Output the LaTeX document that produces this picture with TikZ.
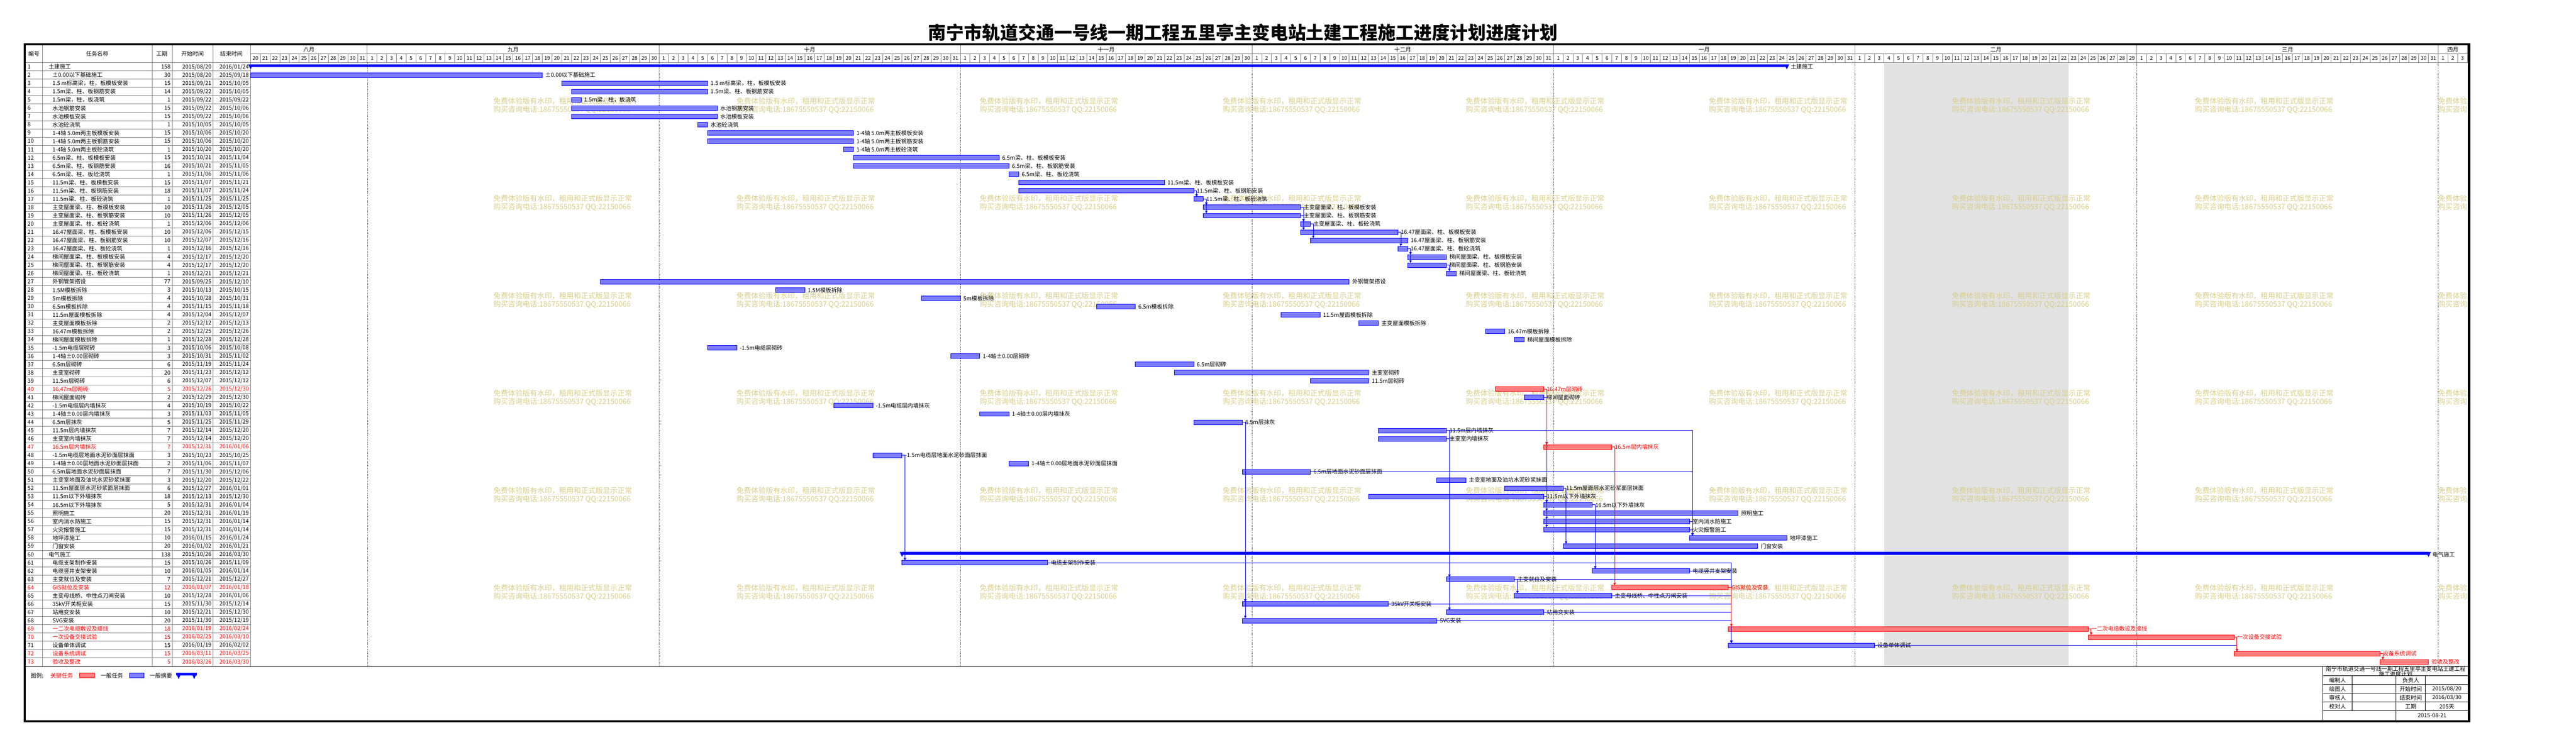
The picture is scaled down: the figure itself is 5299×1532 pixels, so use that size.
\documentclass[tikz,border=0pt]{standalone}
\usepackage{fontspec}
\setmainfont{Noto Sans CJK SC}
\usetikzlibrary{arrows.meta}
\definecolor{wm}{RGB}{216,206,138}
\definecolor{barfill}{RGB}{125,125,250}
\definecolor{critfill}{RGB}{255,125,125}
\definecolor{gridgray}{RGB}{128,128,128}
\definecolor{nonwork}{RGB}{226,226,226}
\colorlet{tcn}{black}
\colorlet{tcc}{red}
\tikzset{
 grid/.style={draw=gridgray, line width=1pt},
 cell/.style={font=\fontsize{11.5}{12}\selectfont, inner sep=0pt, outer sep=0pt},
 hd/.style={font=\fontsize{11.5}{12}\selectfont, inner sep=0pt},
 dy/.style={font=\fontsize{10.5}{11}\selectfont, inner sep=0pt},
 lbl/.style={font=\fontsize{11.5}{12}\selectfont, inner sep=0pt, anchor=west},
 barn/.style={draw=blue, fill=barfill, line width=1pt, inner sep=0pt, outer sep=0pt, minimum height=9.5pt, anchor=west},
 barc/.style={barn, draw=red, fill=critfill},
 sumbar/.style={fill=blue, inner sep=0pt, outer sep=0pt, minimum height=5.5pt, anchor=west},
 link/.style={line width=0.9pt, -{Triangle[length=5pt,width=5pt]}},
 wmk/.style={text=wm, font=\fontsize{15}{16}\selectfont, inner sep=0pt, anchor=west},
 monthline/.style={black, line width=0.8pt, dash pattern=on 1pt off 2pt},
 info/.style={black, line width=1.2pt},
}
% task row: #1 row, #2 start idx, #3 end idx, #4 dur, #5 start, #6 end, #7 name, #8 n/c
\newcommand\tk[8]{%
 \pgfmathsetmacro\yc{129+17*#1-8.5}%
 \pgfmathsetmacro\xa{515.5+20*#2}%
 \pgfmathsetmacro\bw{20*(#3-#2+1)}%
 \node[cell,anchor=west,text=tc#8] (n#1) at (56.7,\yc) {#1};
 \node[cell,anchor=west,text=tc#8] (t#1) at (108,\yc) {#7};
 \node[cell,anchor=east,text=tc#8] (d#1) at (350.7,\yc) {#4};
 \node[cell,anchor=east,text=tc#8] (s#1) at (435,\yc) {#5};
 \node[cell,anchor=east,text=tc#8] (e#1) at (511.7,\yc) {#6};
 \node[bar#8, minimum width=\bw pt] (b#1) at (\xa,\yc) {};
 \node[lbl,text=tc#8] (l#1) at ([xshift=6pt]b#1.east) {#7};
}
% summary row
\newcommand\sm[7]{%
 \pgfmathsetmacro\yc{129+17*#1-8.5}%
 \pgfmathsetmacro\xa{515.5+20*#2}%
 \pgfmathsetmacro\bw{20*(#3-#2+1)}%
 \node[cell,anchor=west] (n#1) at (56.7,\yc) {#1};
 \node[cell,anchor=west] (t#1) at (100,\yc) {#7};
 \node[cell,anchor=east] (d#1) at (350.7,\yc) {#4};
 \node[cell,anchor=east] (s#1) at (435,\yc) {#5};
 \node[cell,anchor=east] (e#1) at (511.7,\yc) {#6};
 \node[sumbar, minimum width=\bw pt] (b#1) at (\xa,\yc-2.25) {};
 \fill[blue] (b#1.north west) ++(-5,0) -- ++(10,0) -- ++(-5,10) -- cycle;
 \fill[blue] (b#1.north east) ++(-5,0) -- ++(10,0) -- ++(-5,10) -- cycle;
 \node[lbl] (l#1) at (\xa+\bw+8,\yc) {#7};
}
% link
\newcommand\lk[3]{\draw[link,color=#3] (b#1.east) -| ([xshift=6pt]b#2.north west);}
% month header
\newcommand\mon[5]{%
 \pgfmathsetmacro\mxs{515.5+20*#1}%
 \pgfmathsetmacro\mxe{515.5+20*(#1+#3-#2+1)}%
 \node[hd] (mo-#5) at ({(\mxs+\mxe)/2},102) {#4};
 \draw[grid] (\mxe,93) -- (\mxe,111);
 \foreach \d in {#2,...,#3}{%
  \pgfmathsetmacro\xx{515.5+20*(#1+\d-#2)}%
  \node[dy] (dy-#5-\d) at (\xx+10,120) {\d};
  \draw[grid] (\xx+20,111) -- (\xx+20,129);
 }%
}
\begin{document}
\begin{tikzpicture}[x=1pt,y=-1pt]
\useasboundingbox (0,0) rectangle (5299,1532);
\fill[white] (0,0) rectangle (5299,1532);
% non-working period
\fill[nonwork] (3875.5,130) rectangle (4255.5,1371);
% watermarks
\begin{scope}
\clip (515.5,129) rectangle (5077,1371);
\foreach \i in {0,...,8}{
 \foreach \j in {0,...,5}{
  \node[wmk] (wa-\i-\j) at (1015+500*\i,208+200.3*\j) {免费体验版有水印，租用和正式版显示正常};
  \node[wmk] (wb-\i-\j) at (1015+500*\i,226+200.3*\j) {购买咨询电话:18675550537 QQ:22150066};
 }
}
\end{scope}
% month dotted lines
\foreach \mx in {755.5,1355.5,1975.5,2575.5,3195.5,3815.5,4395.5,5015.5}
 \draw[monthline] (\mx,129) -- (\mx,1371);
% table grid
\foreach \k in {0,...,72}
 \draw[grid] (53,129+17*\k) -- (515,129+17*\k);
\foreach \cx in {87.3,313.3,354.3,438.7}
 \draw[grid] (\cx,93) -- (\cx,1371);
\draw[grid] (515.5,93) -- (515.5,1371);
\draw[grid] (515.5,111) -- (5077,111);
\draw[gridgray, line width=1.6pt] (53,129) -- (5077,129);
% header
\node[hd,anchor=west] (h1) at (58,111) {编号};
\node[hd] (h2) at (200,111) {任务名称};
\node[hd] (h3) at (333,111) {工期};
\node[hd] (h4) at (396,111) {开始时间};
\node[hd] (h5) at (476,111) {结束时间};
\mon{0}{20}{31}{八月}{aug}
\mon{12}{1}{30}{九月}{sep}
\mon{42}{1}{31}{十月}{oct}
\mon{73}{1}{30}{十一月}{nov}
\mon{103}{1}{31}{十二月}{dec}
\mon{134}{1}{31}{一月}{jan}
\mon{165}{1}{29}{二月}{feb}
\mon{194}{1}{31}{三月}{mar}
\mon{225}{1}{3}{四月}{apr}
% tasks
\sm{1}{0}{157}{158}{2015/08/20}{2016/01/24}{土建施工}
\tk{2}{0}{29}{30}{2015/08/20}{2015/09/18}{±0.00以下基础施工}{n}
\tk{3}{32}{46}{15}{2015/09/21}{2015/10/05}{1.5 m标高梁，柱，板模板安装}{n}
\tk{4}{33}{46}{14}{2015/09/22}{2015/10/05}{1.5m梁、柱、板钢筋安装}{n}
\tk{5}{33}{33}{1}{2015/09/22}{2015/09/22}{1.5m梁，柱，板浇筑}{n}
\tk{6}{33}{47}{15}{2015/09/22}{2015/10/06}{水池钢筋安装}{n}
\tk{7}{33}{47}{15}{2015/09/22}{2015/10/06}{水池模板安装}{n}
\tk{8}{46}{46}{1}{2015/10/05}{2015/10/05}{水池砼浇筑}{n}
\tk{9}{47}{61}{15}{2015/10/06}{2015/10/20}{1-4轴 5.0m两主板模板安装}{n}
\tk{10}{47}{61}{15}{2015/10/06}{2015/10/20}{1-4轴 5.0m两主板钢筋安装}{n}
\tk{11}{61}{61}{1}{2015/10/20}{2015/10/20}{1-4轴 5.0m两主板砼浇筑}{n}
\tk{12}{62}{76}{15}{2015/10/21}{2015/11/04}{6.5m梁、柱、板模板安装}{n}
\tk{13}{62}{77}{16}{2015/10/21}{2015/11/05}{6.5m梁、柱、板钢筋安装}{n}
\tk{14}{78}{78}{1}{2015/11/06}{2015/11/06}{6.5m梁、柱、板砼浇筑}{n}
\tk{15}{79}{93}{15}{2015/11/07}{2015/11/21}{11.5m梁、柱、板模板安装}{n}
\tk{16}{79}{96}{18}{2015/11/07}{2015/11/24}{11.5m梁、柱、板钢筋安装}{n}
\tk{17}{97}{97}{1}{2015/11/25}{2015/11/25}{11.5m梁、柱、板砼浇筑}{n}
\tk{18}{98}{107}{10}{2015/11/26}{2015/12/05}{主变屋面梁、柱、板模板安装}{n}
\tk{19}{98}{107}{10}{2015/11/26}{2015/12/05}{主变屋面梁、柱、板钢筋安装}{n}
\tk{20}{108}{108}{1}{2015/12/06}{2015/12/06}{主变屋面梁、柱、板砼浇筑}{n}
\tk{21}{108}{117}{10}{2015/12/06}{2015/12/15}{16.47屋面梁、柱、板模板安装}{n}
\tk{22}{109}{118}{10}{2015/12/07}{2015/12/16}{16.47屋面梁、柱、板钢筋安装}{n}
\tk{23}{118}{118}{1}{2015/12/16}{2015/12/16}{16.47屋面梁、柱、板砼浇筑}{n}
\tk{24}{119}{122}{4}{2015/12/17}{2015/12/20}{梯间屋面梁、柱、板模板安装}{n}
\tk{25}{119}{122}{4}{2015/12/17}{2015/12/20}{梯间屋面梁、柱、板钢筋安装}{n}
\tk{26}{123}{123}{1}{2015/12/21}{2015/12/21}{梯间屋面梁、柱、板砼浇筑}{n}
\tk{27}{36}{112}{77}{2015/09/25}{2015/12/10}{外钢管架搭设}{n}
\tk{28}{54}{56}{3}{2015/10/13}{2015/10/15}{1.5M模板拆除}{n}
\tk{29}{69}{72}{4}{2015/10/28}{2015/10/31}{5m模板拆除}{n}
\tk{30}{87}{90}{4}{2015/11/15}{2015/11/18}{6.5m模板拆除}{n}
\tk{31}{106}{109}{4}{2015/12/04}{2015/12/07}{11.5m屋面模板拆除}{n}
\tk{32}{114}{115}{2}{2015/12/12}{2015/12/13}{主变屋面模板拆除}{n}
\tk{33}{127}{128}{2}{2015/12/25}{2015/12/26}{16.47m模板拆除}{n}
\tk{34}{130}{130}{1}{2015/12/28}{2015/12/28}{梯间屋面模板拆除}{n}
\tk{35}{47}{49}{3}{2015/10/06}{2015/10/08}{-1.5m电缆层砌砖}{n}
\tk{36}{72}{74}{3}{2015/10/31}{2015/11/02}{1-4轴±0.00层砌砖}{n}
\tk{37}{91}{96}{6}{2015/11/19}{2015/11/24}{6.5m层砌砖}{n}
\tk{38}{95}{114}{20}{2015/11/23}{2015/12/12}{主变室砌砖}{n}
\tk{39}{109}{114}{6}{2015/12/07}{2015/12/12}{11.5m层砌砖}{n}
\tk{40}{128}{132}{5}{2015/12/26}{2015/12/30}{16.47m层砌砖}{c}
\tk{41}{131}{132}{2}{2015/12/29}{2015/12/30}{梯间屋面砌砖}{n}
\tk{42}{60}{63}{4}{2015/10/19}{2015/10/22}{-1.5m电缆层内墙抹灰}{n}
\tk{43}{75}{77}{3}{2015/11/03}{2015/11/05}{1-4轴±0.00层内墙抹灰}{n}
\tk{44}{97}{101}{5}{2015/11/25}{2015/11/29}{6.5m层抹灰}{n}
\tk{45}{116}{122}{7}{2015/12/14}{2015/12/20}{11.5m层内墙抹灰}{n}
\tk{46}{116}{122}{7}{2015/12/14}{2015/12/20}{主变室内墙抹灰}{n}
\tk{47}{133}{139}{7}{2015/12/31}{2016/01/06}{16.5m层内墙抹灰}{c}
\tk{48}{64}{66}{3}{2015/10/23}{2015/10/25}{-1.5m电缆层地面水泥砂面层抹面}{n}
\tk{49}{78}{79}{2}{2015/11/06}{2015/11/07}{1-4轴±0.00层地面水泥砂面层抹面}{n}
\tk{50}{102}{108}{7}{2015/11/30}{2015/12/06}{6.5m层地面水泥砂面层抹面}{n}
\tk{51}{122}{124}{3}{2015/12/20}{2015/12/22}{主变室地面及油坑水泥砂浆抹面}{n}
\tk{52}{129}{134}{6}{2015/12/27}{2016/01/01}{11.5m屋面层水泥砂浆面层抹面}{n}
\tk{53}{115}{132}{18}{2015/12/13}{2015/12/30}{11.5m以下外墙抹灰}{n}
\tk{54}{133}{137}{5}{2015/12/31}{2016/01/04}{16.5m以下外墙抹灰}{n}
\tk{55}{133}{152}{20}{2015/12/31}{2016/01/19}{照明施工}{n}
\tk{56}{133}{147}{15}{2015/12/31}{2016/01/14}{室内消水防施工}{n}
\tk{57}{133}{147}{15}{2015/12/31}{2016/01/14}{火灾报警施工}{n}
\tk{58}{148}{157}{10}{2016/01/15}{2016/01/24}{地坪漆施工}{n}
\tk{59}{135}{154}{20}{2016/01/02}{2016/01/21}{门窗安装}{n}
\sm{60}{67}{223}{138}{2015/10/26}{2016/03/30}{电气施工}
\tk{61}{67}{81}{15}{2015/10/26}{2015/11/09}{电缆支架制作安装}{n}
\tk{62}{138}{147}{10}{2016/01/05}{2016/01/14}{电缆竖井支架安装}{n}
\tk{63}{123}{129}{7}{2015/12/21}{2015/12/27}{主变就位及安装}{n}
\tk{64}{140}{151}{12}{2016/01/07}{2016/01/18}{GIS就位及安装}{c}
\tk{65}{130}{139}{10}{2015/12/28}{2016/01/06}{主变母线桥、中性点刀闸安装}{n}
\tk{66}{102}{116}{15}{2015/11/30}{2015/12/14}{35kV开关柜安装}{n}
\tk{67}{123}{132}{10}{2015/12/21}{2015/12/30}{站用变安装}{n}
\tk{68}{102}{121}{20}{2015/11/30}{2015/12/19}{SVG安装}{n}
\tk{69}{152}{188}{18}{2016/01/19}{2016/02/24}{一二次电缆敷设及接线}{c}
\tk{70}{189}{203}{15}{2016/02/25}{2016/03/10}{一次设备交接试验}{c}
\tk{71}{152}{166}{15}{2016/01/19}{2016/02/02}{设备单体调试}{n}
\tk{72}{204}{218}{15}{2016/03/11}{2016/03/25}{设备系统调试}{c}
\tk{73}{219}{223}{5}{2016/03/26}{2016/03/30}{验收及整改}{c}
% links
\lk{16}{17}{blue}
\lk{17}{18}{blue}
\lk{17}{19}{blue}
\lk{18}{20}{blue}
\lk{19}{20}{blue}
\lk{19}{21}{blue}
\lk{20}{22}{blue}
\lk{21}{23}{blue}
\lk{23}{24}{blue}
\lk{23}{25}{blue}
\lk{25}{26}{blue}
\lk{44}{66}{blue}
\lk{44}{68}{blue}
\lk{45}{58}{blue}
\lk{50}{58}{blue}
\lk{56}{58}{blue}
\lk{57}{58}{blue}
\lk{45}{63}{blue}
\lk{46}{67}{blue}
\lk{48}{61}{blue}
\lk{52}{59}{blue}
\lk{41}{47}{blue}
\lk{41}{54}{blue}
\lk{53}{54}{blue}
\lk{53}{55}{blue}
\lk{53}{56}{blue}
\lk{53}{57}{blue}
\lk{54}{62}{blue}
\lk{63}{65}{blue}
\lk{61}{71}{blue}
\lk{62}{71}{blue}
\lk{63}{71}{blue}
\lk{65}{71}{blue}
\lk{66}{71}{blue}
\lk{67}{71}{blue}
\lk{68}{71}{blue}
\lk{71}{72}{blue}
\lk{40}{47}{red}
\lk{47}{64}{red}
\lk{64}{69}{red}
\lk{69}{70}{red}
\lk{70}{72}{red}
\lk{72}{73}{red}
% legend area separator
\draw[black, line width=1.5pt] (53,1371) -- (5077,1371);
% legend
\node[cell,anchor=west] (lg0) at (63,1390) {图例:};
\node[cell,anchor=west,text=red] (lg1) at (104,1390) {关键任务};
\node[barc, minimum width=30pt] (lgc) at (164,1389.7) {};
\node[cell,anchor=west] (lg2) at (207,1390) {一般任务};
\node[barn, minimum width=30pt] (lgn) at (266,1389.7) {};
\node[cell,anchor=west] (lg3) at (308,1390) {一般摘要};
\node[sumbar, minimum width=43pt] (lgs) at (362,1386.8) {};
\fill[blue] (lgs.north west) -- ++(11,0) -- ++(-5.5,13) -- cycle;
\fill[blue] (lgs.north east) -- ++(-11,0) -- ++(5.5,13) -- cycle;
% info block
\begin{scope}
\clip (4778.5,1371) rectangle (5077,1390);
\node[cell] (ib0) at (4927.8,1376) {南宁市轨道交通一号线一期工程五里亭主变电站土建工程};
\node[cell] (ib1) at (4927.8,1387) {施工进度计划};
\end{scope}
\draw[info] (4778.5,1371) -- (4778.5,1483);
\foreach \hy in {1390,1408.3,1426.3,1444.3,1462.3}
 \draw[info] (4778.5,\hy) -- (5077,\hy);
\draw[info] (4838.5,1390) -- (4838.5,1462.3);
\draw[info] (4928.9,1390) -- (4928.9,1483);
\draw[info] (4989.3,1390) -- (4989.3,1462.3);
\node[cell] (ia1) at (4808.5,1399.2) {编制人};
\node[cell] (ia2) at (4959.1,1399.2) {负责人};
\node[cell] (ib1a) at (4808.5,1417.3) {绘图人};
\node[cell] (ib2) at (4959.1,1417.3) {开始时间};
\node[cell] (ib3) at (5033.2,1417.3) {2015/08/20};
\node[cell] (ic1) at (4808.5,1435.3) {审核人};
\node[cell] (ic2) at (4959.1,1435.3) {结束时间};
\node[cell] (ic3) at (5033.2,1435.3) {2016/03/30};
\node[cell] (id1) at (4808.5,1453.3) {校对人};
\node[cell] (id2) at (4959.1,1453.3) {工期};
\node[cell] (id3) at (5033.2,1453.3) {205天};
\node[cell] (ie3) at (5003,1471.5) {2015-08-21};
% frame
\draw[black, line width=4.5pt] (50.5,91.2) rectangle (5079,1483.5);
% title
\node[font=\fontsize{37}{40}\selectfont\bfseries, inner sep=0pt] (title) at (2557,67) {南宁市轨道交通一号线一期工程五里亭主变电站土建工程施工进度计划进度计划};
\end{tikzpicture}
\end{document}
